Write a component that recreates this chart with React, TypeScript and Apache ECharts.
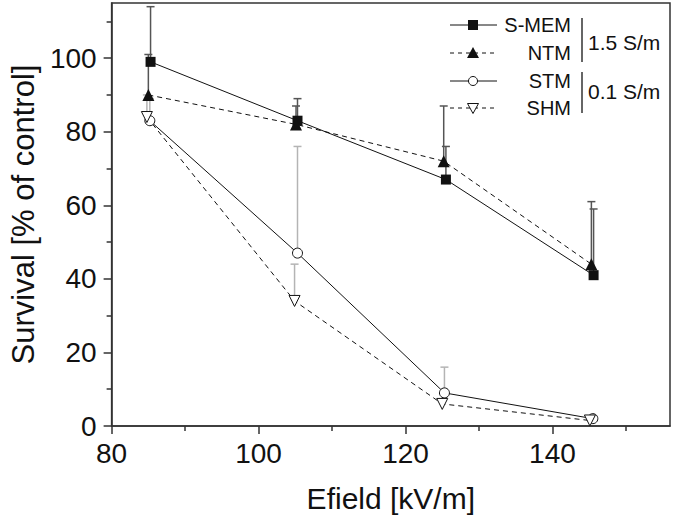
import React, { useEffect, useRef } from "react";
import * as echarts from "echarts";

// Data
const sMemX = [85.3, 105.3, 125.5, 145.6];
const sMemY = [99, 83, 67, 41];
const sMemHi = [114, 89, 76, 59];

const ntmX = [85.0, 105.1, 125.2, 145.3];
const ntmY = [90, 82, 72, 44];
const ntmHi = [101, 87, 87, 61];

const stmX = [85.2, 105.3, 125.3, 145.5];
const stmY = [83, 47, 9, 2];
const stmHi = [89, 76, 16, 2];

const shmX = [84.8, 104.9, 125.0, 145.1];
const shmY = [84, 34, 6, 1.5];
const shmHi = [90, 44, 6, 1.5];

const xMajorTicks = [80, 100, 120, 140];
const xMinorTicks = [90, 110, 130, 150];
const yMajorTicks = [0, 20, 40, 60, 80, 100];
const yMinorTicks = [10, 30, 50, 70, 90, 110];

const FONT = "'Liberation Sans', Arial, sans-serif";
const INK = "#111";
const AXIS = "#333";
const DARK_ERR = "#555";
const LIGHT_ERR = "#b4b4b4";

const pts = (xs: number[], ys: number[]) => xs.map((x, i) => [x, ys[i]]);
const errPts = (xs: number[], ys: number[], hi: number[]) =>
  xs.map((x, i) => [x, ys[i], hi[i]]).filter((d) => d[2] > d[1]);

const errRender = (color: string) => (params: any, api: any) => {
  const x = api.value(0);
  const y = api.value(1);
  const hi = api.value(2);
  const p0 = api.coord([x, y]);
  const p1 = api.coord([x, hi]);
  return {
    type: "group",
    children: [
      {
        type: "line",
        shape: { x1: p0[0], y1: p0[1], x2: p1[0], y2: p1[1] },
        style: { stroke: color, lineWidth: 1.5 },
      },
      {
        type: "line",
        shape: { x1: p1[0] - 4, y1: p1[1], x2: p1[0] + 4, y2: p1[1] },
        style: { stroke: color, lineWidth: 1.5 },
      },
    ],
  };
};

function legendGraphics() {
  const lx1 = 450;
  const lx2 = 497;
  const mx = 473;
  const rows = [25, 53, 81, 108];
  const labels = ["S-MEM", "NTM", "STM", "SHM"];
  const dashed = [false, true, false, true];
  const els: any[] = [];
  rows.forEach((y, i) => {
    els.push({
      type: "line",
      shape: { x1: lx1, y1: y, x2: lx2, y2: y },
      style: { stroke: INK, lineWidth: 1, lineDash: dashed[i] ? [4, 4] : null },
    });
    els.push({
      type: "text",
      x: 571,
      y: y,
      style: {
        text: labels[i],
        fontSize: 20,
        fontFamily: FONT,
        fill: INK,
        align: "right",
        verticalAlign: "middle",
      },
    });
  });
  // markers
  els.push({ type: "rect", shape: { x: mx - 5, y: rows[0] - 5, width: 10, height: 10 }, style: { fill: INK } });
  els.push({
    type: "polygon",
    shape: { points: [[mx - 6, rows[1] + 5], [mx + 6, rows[1] + 5], [mx, rows[1] - 6]] },
    style: { fill: INK },
  });
  els.push({
    type: "circle",
    shape: { cx: mx, cy: rows[2], r: 4.5 },
    style: { fill: "#fff", stroke: INK, lineWidth: 1 },
  });
  els.push({
    type: "polygon",
    shape: { points: [[mx - 5.5, rows[3] - 4.5], [mx + 5.5, rows[3] - 4.5], [mx, rows[3] + 5.5]] },
    style: { fill: "#fff", stroke: INK, lineWidth: 1 },
  });
  // group brackets
  els.push({ type: "line", shape: { x1: 582, y1: 18, x2: 582, y2: 62 }, style: { stroke: AXIS, lineWidth: 1.5 } });
  els.push({ type: "line", shape: { x1: 582, y1: 72, x2: 582, y2: 113 }, style: { stroke: AXIS, lineWidth: 1.5 } });
  els.push({
    type: "text",
    x: 588,
    y: 42,
    style: { text: "1.5 S/m", fontSize: 21, fontFamily: FONT, fill: INK, align: "left", verticalAlign: "middle" },
  });
  els.push({
    type: "text",
    x: 588,
    y: 91,
    style: { text: "0.1 S/m", fontSize: 21, fontFamily: FONT, fill: INK, align: "left", verticalAlign: "middle" },
  });
  return els;
}

export default function App() {
  const ref = useRef<HTMLDivElement>(null);
  useEffect(() => {
    if (!ref.current) return;
    const chart = echarts.init(ref.current, null, { renderer: "svg" });
    const axisCommon = {
      type: "value" as const,
      splitLine: { show: false },
    };
    const option: any = {
      animation: false,
      backgroundColor: "#fff",
      grid: {
        left: 99,
        right: 5,
        top: 3,
        bottom: 94,
        show: true,
        borderColor: AXIS,
        borderWidth: 1.5,
        backgroundColor: "transparent",
      },
      xAxis: [
        {
          ...axisCommon,
          min: 80,
          max: 156,
          interval: 20,
          position: "bottom",
          name: "Efield [kV/m]",
          nameLocation: "middle",
          nameGap: 57,
          nameTextStyle: { fontSize: 30, fontFamily: FONT, color: INK },
          axisLine: { show: true, lineStyle: { color: AXIS, width: 1.5 } },
          axisTick: { show: true, length: 8, customValues: xMajorTicks, lineStyle: { color: AXIS, width: 1.5 } },
          axisLabel: { customValues: xMajorTicks, fontSize: 28, fontFamily: FONT, color: INK, margin: 13 },
        },
        {
          ...axisCommon,
          min: 80,
          max: 156,
          interval: 20,
          position: "bottom",
          axisLine: { show: false },
          axisTick: { show: true, length: 5, customValues: xMinorTicks, lineStyle: { color: AXIS, width: 1.5 } },
          axisLabel: { show: false },
        },
      ],
      yAxis: [
        {
          ...axisCommon,
          min: 0,
          max: 115,
          interval: 20,
          position: "left",
          name: "Survival [% of control]",
          nameLocation: "middle",
          nameGap: 72,
          nameTextStyle: { fontSize: 31, fontFamily: FONT, color: INK },
          axisLine: { show: true, lineStyle: { color: AXIS, width: 1.5 } },
          axisTick: { show: true, length: 8, customValues: yMajorTicks, lineStyle: { color: AXIS, width: 1.5 } },
          axisLabel: { customValues: yMajorTicks, fontSize: 28, fontFamily: FONT, color: INK, margin: 15 },
        },
        {
          ...axisCommon,
          min: 0,
          max: 115,
          interval: 20,
          position: "left",
          offset: 0,
          axisLine: { show: false },
          axisTick: { show: true, length: 5, customValues: yMinorTicks, lineStyle: { color: AXIS, width: 1.5 } },
          axisLabel: { show: false },
        },
      ],
      series: [
        {
          type: "custom",
          name: "S-MEM err",
          renderItem: errRender(DARK_ERR),
          data: errPts(sMemX, sMemY, sMemHi),
          encode: { x: 0, y: 1 },
          z: 1,
          silent: true,
        },
        {
          type: "custom",
          name: "NTM err",
          renderItem: errRender(DARK_ERR),
          data: errPts(ntmX, ntmY, ntmHi),
          encode: { x: 0, y: 1 },
          z: 1,
          silent: true,
        },
        {
          type: "custom",
          name: "STM err",
          renderItem: errRender(LIGHT_ERR),
          data: errPts(stmX, stmY, stmHi),
          encode: { x: 0, y: 1 },
          z: 1,
          silent: true,
        },
        {
          type: "custom",
          name: "SHM err",
          renderItem: errRender(LIGHT_ERR),
          data: errPts(shmX, shmY, shmHi),
          encode: { x: 0, y: 1 },
          z: 1,
          silent: true,
        },
        {
          type: "line",
          name: "S-MEM",
          data: pts(sMemX, sMemY),
          symbol: "rect",
          symbolSize: 10,
          itemStyle: { color: INK },
          lineStyle: { color: INK, width: 1 },
          z: 3,
          silent: true,
        },
        {
          type: "line",
          name: "NTM",
          data: pts(ntmX, ntmY),
          symbol: "triangle",
          symbolSize: 12,
          itemStyle: { color: INK },
          lineStyle: { color: INK, width: 1, type: [5, 4] },
          z: 3,
          silent: true,
        },
        {
          type: "line",
          name: "STM",
          data: pts(stmX, stmY),
          symbol: "circle",
          symbolSize: 10,
          showAllSymbol: true,
          itemStyle: { color: "#fff", borderColor: INK, borderWidth: 1 },
          lineStyle: { color: INK, width: 1 },
          z: 3,
          silent: true,
        },
        {
          type: "line",
          name: "SHM",
          data: pts(shmX, shmY),
          symbol: "triangle",
          symbolRotate: 180,
          symbolSize: 11,
          itemStyle: { color: "#fff", borderColor: INK, borderWidth: 1 },
          lineStyle: { color: INK, width: 1, type: [5, 4] },
          z: 3,
          silent: true,
        },
      ],
      graphic: legendGraphics(),
    };
    chart.setOption(option);
    return () => chart.dispose();
  }, []);
  return (
    <div
      ref={ref}
      style={{ position: "fixed", left: 0, top: 0, width: 675, height: 520, background: "#fff" }}
    />
  );
}
